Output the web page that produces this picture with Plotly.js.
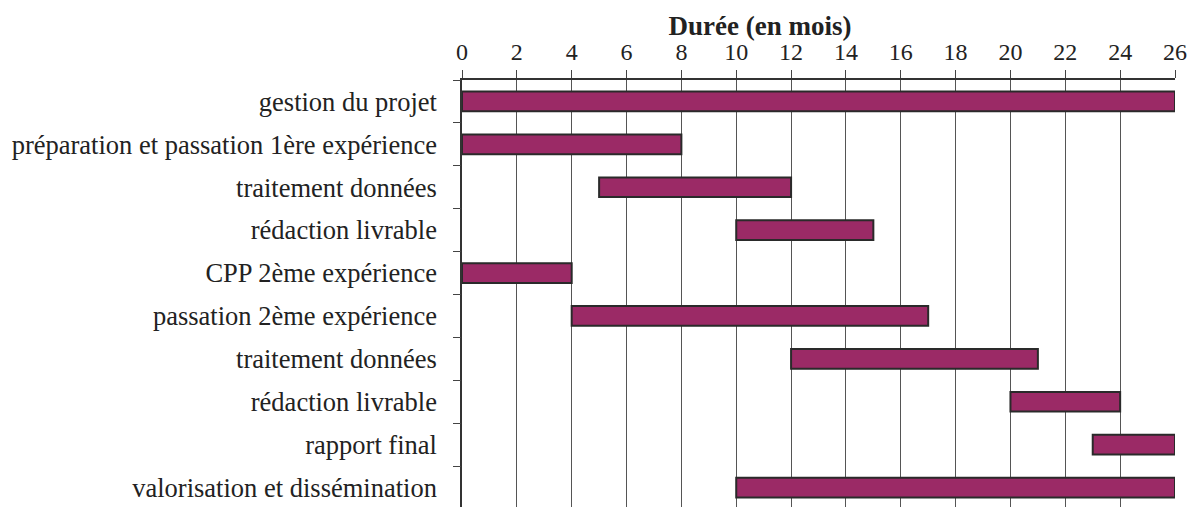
<!DOCTYPE html>
<html><head><meta charset="utf-8">
<script src="https://cdn.plot.ly/plotly-3.0.1.min.js"></script>
<style>html,body{margin:0;padding:0;overflow:hidden;background:#fff}</style>
</head><body>
<div id="chart" style="width:1192px;height:512px"></div>
<script>
const tasks = ["gestion du projet","préparation et passation 1ère expérience","traitement données","rédaction livrable","CPP 2ème expérience","passation 2ème expérience","traitement données","rédaction livrable","rapport final","valorisation et dissémination"];
const startMonth = [0,0,5,10,0,4,12,20,23,10];
const endMonth = [26,8,12,15,4,17,21,24,26,26];
const xTicks = [0,2,4,6,8,10,12,14,16,18,20,22,24,26];
const axisTitle = "Durée (en mois)";

const rows = tasks.map((_, i) => i);
const durations = endMonth.map((e, i) => e - startMonth[i]);
const boundaries = tasks.map((_, i) => i - 0.5).concat([tasks.length - 0.5]);
const SERIF = "Liberation Serif";

const traces = [
  {type:'bar', orientation:'h', y: rows, x: durations, base: startMonth, width: 0.46,
   marker:{color:'#9b2a66', line:{color:'#2a2a2a', width:2}}, hoverinfo:'skip', yaxis:'y'},
  {type:'scatter', mode:'markers', x:[0], y:[0], yaxis:'y2', marker:{opacity:0}, hoverinfo:'skip', showlegend:false}
];
const layout = {
  width:1192, height:512,
  margin:{l:462, r:17, t:80, b:3},
  paper_bgcolor:'#fff', plot_bgcolor:'#fff',
  showlegend:false,
  font:{family:SERIF, size:24, color:'#222'},
  title:{text:'<b>' + axisTitle + '</b>', font:{size:27, color:'#222'},
    x:0.418, xref:'paper', xanchor:'center', yref:'container', y:0.95, yanchor:'middle'},
  xaxis:{side:'top', range:[0,26], tickvals:xTicks, ticks:'outside', ticklen:8, tickcolor:'#444',
    showgrid:true, gridcolor:'#555', gridwidth:1, showline:true, linecolor:'#333', linewidth:1.5,
    zeroline:false, tickfont:{size:24, color:'#222'}, ticklabelstandoff:1},
  yaxis:{range:[tasks.length - 0.5, -0.5], tickmode:'array', tickvals:rows, ticktext:tasks,
    ticks:'', showgrid:false, zeroline:false, showline:true, linecolor:'#333', linewidth:1.5,
    ticklabelstandoff:18, tickfont:{size:26.5, color:'#222'}},
  yaxis2:{overlaying:'y', side:'left', range:[tasks.length - 0.5, -0.5], tickmode:'array',
    tickvals:boundaries, ticks:'outside', ticklen:8, tickcolor:'#444', showticklabels:false,
    showgrid:false, zeroline:false, showline:false}
};
Plotly.newPlot('chart', traces, layout, {displayModeBar:false});
</script>
</body></html>
